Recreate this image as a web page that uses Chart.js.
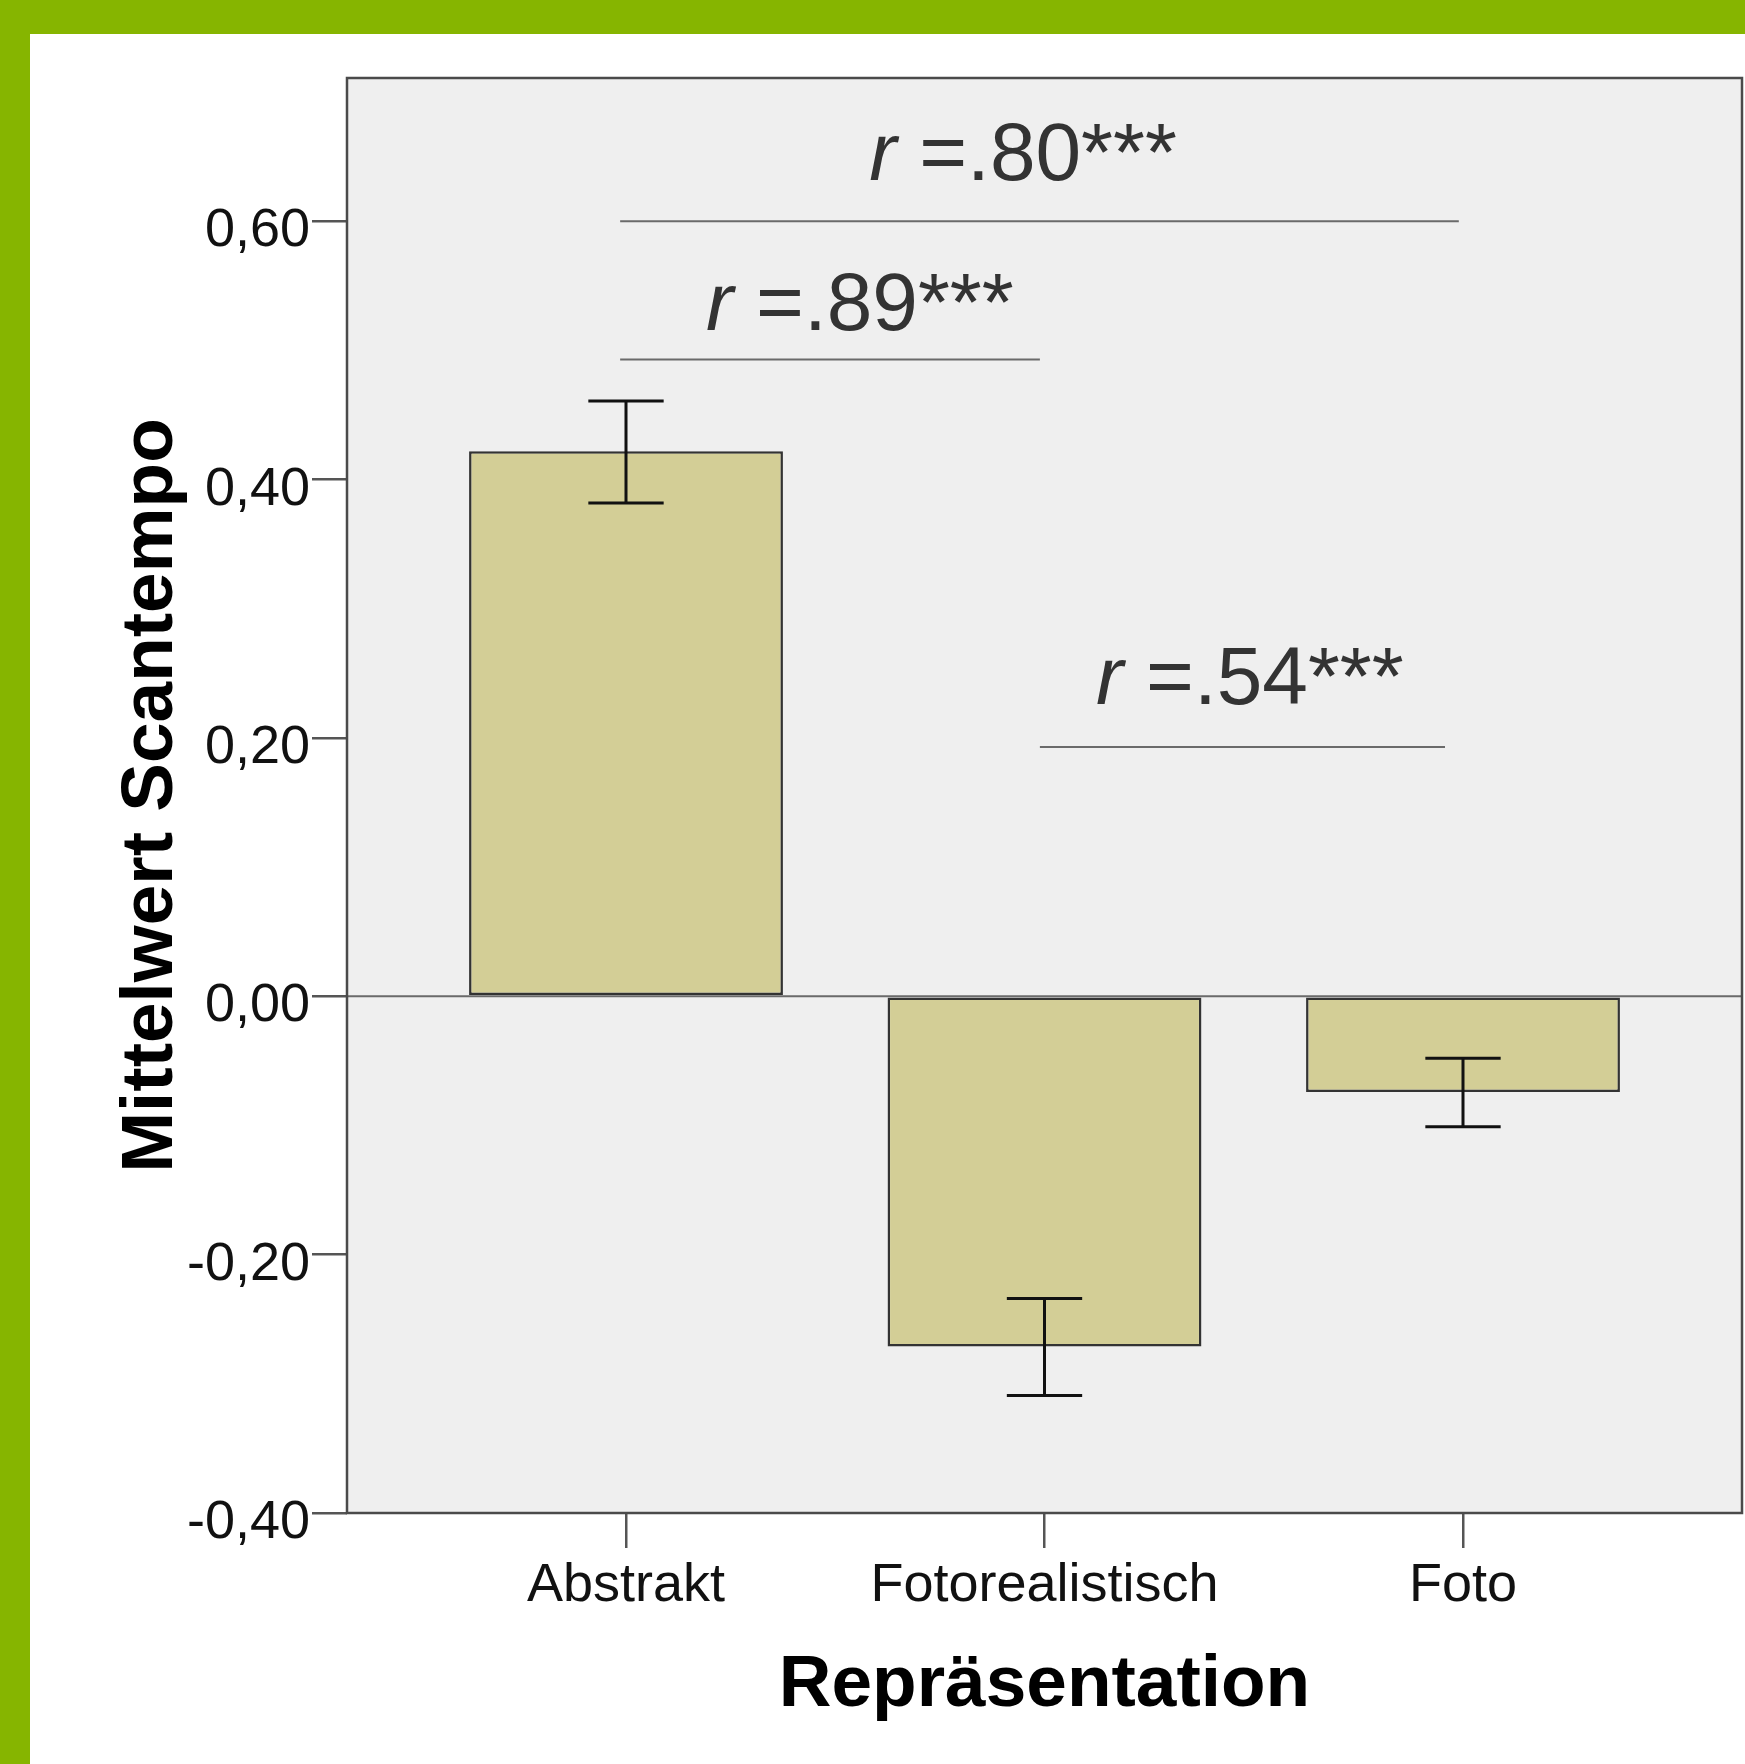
<!DOCTYPE html>
<html>
<head>
<meta charset="utf-8">
<script src="https://cdn.jsdelivr.net/npm/chart.js@4.4.1/dist/chart.umd.min.js"></script>
<style>
  html, body { margin: 0; padding: 0; }
  body { width: 1745px; height: 1764px; background: #86b500; position: relative; overflow: hidden; }
  #wrap { position: absolute; left: 30px; top: 34px; width: 1715px; height: 1730px; background: #fff; }
</style>
</head>
<body>
<div id="wrap"><canvas id="chart"></canvas></div>
<script>
const categories = ["Abstrakt", "Fotorealistisch", "Foto"];
const means = [0.422, -0.271, -0.074];
const errLow = [0.382, -0.309, -0.101];
const errHigh = [0.461, -0.234, -0.048];
const yTicks = [-0.4, -0.2, 0, 0.2, 0.4, 0.6];

// Effektstärken zwischen den Gruppen (Klammerlinien + Beschriftung)
const pairLabels = [".80***", ".89***", ".54***"];
const pairFrom = [-0.014, -0.014, 0.989];
const pairTo = [1.990, 0.989, 1.957];
const pairLineY = [0.600, 0.493, 0.193];
const pairTextX = [0.581, 0.191, 1.123];
const pairTextY = [0.632, 0.516, 0.226];

const FONT = '"Liberation Sans", Arial, Helvetica, sans-serif';

const plotFrame = {
  id: "plotFrame",
  beforeDraw(chart) {
    const { ctx, chartArea: a } = chart;
    ctx.save();
    ctx.fillStyle = "#efefef";
    ctx.fillRect(a.left, a.top, a.right - a.left, a.bottom - a.top);
    ctx.restore();
  },
  afterDatasetsDraw(chart) {
    const { ctx, chartArea: a, scales: { y } } = chart;
    const y0 = y.getPixelForValue(0);
    ctx.save();
    ctx.strokeStyle = "#6a6a6a";
    ctx.lineWidth = 2;
    ctx.beginPath();
    ctx.moveTo(a.left, y0);
    ctx.lineTo(a.right, y0);
    ctx.stroke();
    ctx.restore();
  },
  afterDraw(chart) {
    const { ctx, chartArea: a } = chart;
    ctx.save();
    ctx.strokeStyle = "#4a4a4a";
    ctx.lineWidth = 2.5;
    ctx.strokeRect(a.left, a.top, a.right - a.left, a.bottom - a.top);
    ctx.restore();
  }
};

const errorBars = {
  id: "errorBars",
  afterDatasetsDraw(chart) {
    const { ctx, scales: { x, y } } = chart;
    ctx.save();
    ctx.strokeStyle = "#111";
    ctx.lineWidth = 3;
    categories.forEach((c, i) => {
      const px = x.getPixelForValue(i);
      const half = x.getPixelForValue(i + 0.09) - px;
      const yl = y.getPixelForValue(errLow[i]);
      const yh = y.getPixelForValue(errHigh[i]);
      ctx.beginPath();
      ctx.moveTo(px, yh); ctx.lineTo(px, yl);
      ctx.moveTo(px - half, yh); ctx.lineTo(px + half, yh);
      ctx.moveTo(px - half, yl); ctx.lineTo(px + half, yl);
      ctx.stroke();
    });
    ctx.restore();
  }
};

const pairMarks = {
  id: "pairMarks",
  afterDatasetsDraw(chart) {
    const { ctx, scales: { x, y } } = chart;
    ctx.save();
    pairLabels.forEach((lab, i) => {
      const ly = y.getPixelForValue(pairLineY[i]);
      ctx.strokeStyle = "#6a6a6a";
      ctx.lineWidth = 2;
      ctx.beginPath();
      ctx.moveTo(x.getPixelForValue(pairFrom[i]), ly);
      ctx.lineTo(x.getPixelForValue(pairTo[i]), ly);
      ctx.stroke();

      const tx = x.getPixelForValue(pairTextX[i]);
      const ty = y.getPixelForValue(pairTextY[i]);
      ctx.fillStyle = "#333";
      ctx.textAlign = "left";
      ctx.textBaseline = "alphabetic";
      ctx.font = "italic 82px " + FONT;
      ctx.fillText("r", tx, ty);
      const w = ctx.measureText("r").width;
      ctx.font = "82px " + FONT;
      ctx.fillText(" =" + lab, tx + w, ty);
    });
    ctx.restore();
  }
};

new Chart(document.getElementById("chart"), {
  type: "bar",
  data: {
    datasets: [{
      data: means.map((m, i) => ({ x: i, y: m })),
      backgroundColor: "#d3ce96",
      borderColor: "#333",
      borderWidth: 2.5,
      borderSkipped: false,
      barPercentage: 0.75,
      categoryPercentage: 1
    }]
  },
  options: {
    responsive: true,
    maintainAspectRatio: false,
    animation: false,
    layout: { padding: { top: 44, right: 3, left: 0, bottom: 0 } },
    plugins: { legend: { display: false }, tooltip: { enabled: false } },
    scales: {
      x: {
        type: "linear",
        offset: false,
        min: -2 / 3,
        max: 8 / 3,
        afterBuildTicks: (s) => { s.ticks = categories.map((c, i) => ({ value: i })); },
        afterFit: (s) => { s.height = 251; },
        grid: { offset: false, drawOnChartArea: false, drawTicks: true, tickLength: 35, tickColor: "#555", lineWidth: 2.5 },
        border: { display: false },
        ticks: {
          padding: 6,
          maxRotation: 0,
          autoSkip: false,
          color: "#111",
          font: { family: FONT, size: 54 },
          callback: (v) => categories[v] ?? ""
        },
        title: {
          display: true,
          text: "Repräsentation",
          color: "#000",
          font: { family: FONT, size: 73, weight: "bold" },
          padding: { top: 0, bottom: 34 }
        }
      },
      y: {
        min: -0.4,
        max: 0.711,
        afterBuildTicks: (s) => { s.ticks = yTicks.map((v) => ({ value: v })); },
        afterFit: (s) => { s.width = 317; },
        grid: { drawOnChartArea: false, drawTicks: true, tickLength: 35, tickColor: "#555", lineWidth: 2.5 },
        border: { display: false },
        ticks: {
          padding: 2,
          labelOffset: 10,
          color: "#111",
          font: { family: FONT, size: 54 },
          callback: (v) => v.toFixed(2).replace(".", ",")
        },
        title: {
          display: true,
          text: "Mittelwert Scantempo",
          color: "#000",
          font: { family: FONT, size: 73, weight: "bold" },
          padding: { top: 78, bottom: 0 }
        }
      }
    }
  },
  plugins: [plotFrame, errorBars, pairMarks]
});
</script>
</body>
</html>
